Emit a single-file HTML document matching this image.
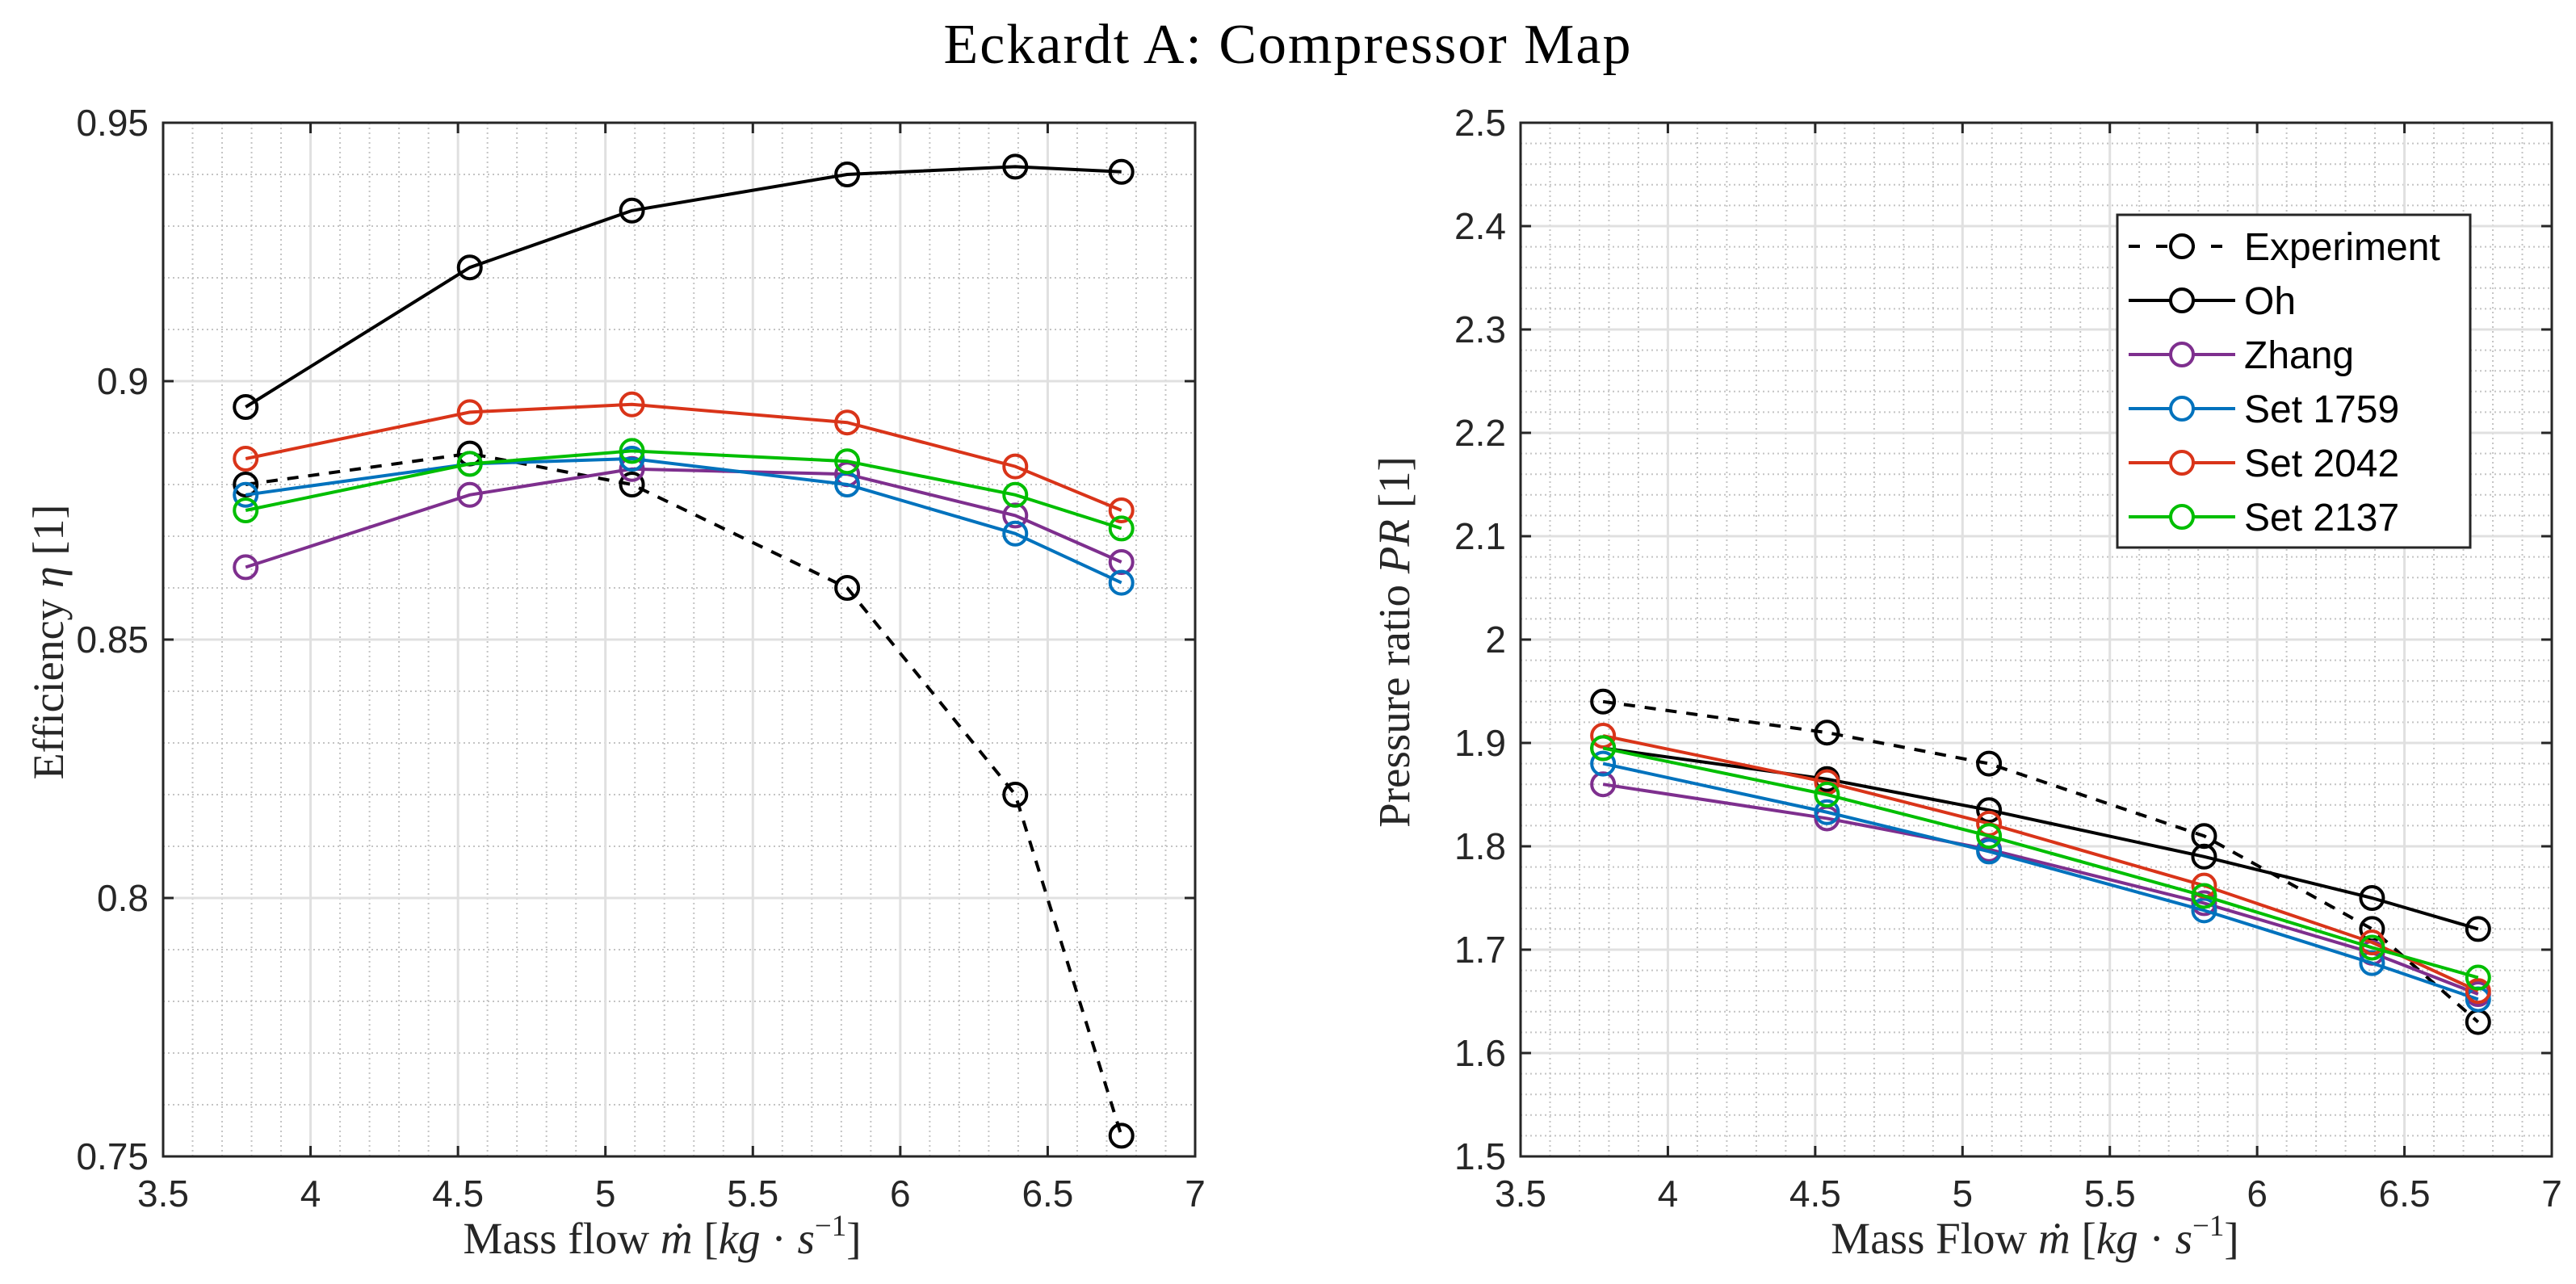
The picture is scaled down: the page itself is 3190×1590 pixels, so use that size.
<!DOCTYPE html>
<html><head><meta charset="utf-8"><style>
html,body{margin:0;padding:0;background:#fff;}
svg{display:block;}
</style></head><body>
<svg id="fig" width="3190" height="1590" viewBox="0 0 3190 1590" xmlns="http://www.w3.org/2000/svg">
<rect width="3190" height="1590" fill="#fff"/>
<text x="1595" y="78" text-anchor="middle" font-family="Liberation Serif, serif" font-size="70" letter-spacing="2" fill="#000">Eckardt A: Compressor Map</text>
<g id="left"></g>
<g id="right"></g>
<text x="820" y="1552" text-anchor="middle" font-family="Liberation Serif, serif" font-size="55" fill="#262626">Mass flow <tspan font-style="italic">ṁ</tspan> [<tspan font-style="italic">kg</tspan> · <tspan font-style="italic">s</tspan><tspan dy="-22" font-size="37">−1</tspan><tspan dy="22">]</tspan></text>
<text transform="translate(78,795) rotate(-90)" text-anchor="middle" font-family="Liberation Serif, serif" font-size="54" fill="#262626">Efficiency <tspan font-style="italic">η</tspan> [1]</text>
<text x="2520" y="1552" text-anchor="middle" font-family="Liberation Serif, serif" font-size="55" fill="#262626">Mass Flow <tspan font-style="italic">ṁ</tspan> [<tspan font-style="italic">kg</tspan> · <tspan font-style="italic">s</tspan><tspan dy="-22" font-size="37">−1</tspan><tspan dy="22">]</tspan></text>
<text transform="translate(1745,795) rotate(-90)" text-anchor="middle" font-family="Liberation Serif, serif" font-size="55" fill="#262626">Pressure ratio <tspan font-style="italic">PR</tspan> [1]</text>
<g id="legend"></g>
</svg>
<script>
const massFlow = [3.78, 4.54, 5.09, 5.82, 6.39, 6.75];
const seriesNames = ["Experiment", "Oh", "Zhang", "Set 1759", "Set 2042", "Set 2137"];
const effExperiment = [0.880, 0.886, 0.880, 0.860, 0.820, 0.754];
const effOh = [0.895, 0.922, 0.933, 0.940, 0.9415, 0.9405];
const effZhang = [0.864, 0.878, 0.883, 0.882, 0.874, 0.865];
const eff1759 = [0.878, 0.884, 0.885, 0.880, 0.8705, 0.861];
const eff2042 = [0.885, 0.894, 0.8955, 0.892, 0.8835, 0.875];
const eff2137 = [0.875, 0.884, 0.8865, 0.8845, 0.878, 0.8715];
const prExperiment = [1.94, 1.91, 1.88, 1.81, 1.72, 1.63];
const prOh = [1.895, 1.865, 1.835, 1.79, 1.75, 1.72];
const prZhang = [1.86, 1.827, 1.797, 1.745, 1.697, 1.657];
const pr1759 = [1.88, 1.833, 1.795, 1.738, 1.687, 1.652];
const pr2042 = [1.907, 1.862, 1.822, 1.762, 1.707, 1.66];
const pr2137 = [1.895, 1.85, 1.81, 1.752, 1.702, 1.673];
const xTicks = ["3.5","4","4.5","5","5.5","6","6.5","7"];
const effTicks = ["0.75","0.8","0.85","0.9","0.95"];
const prTicks = ["1.5","1.6","1.7","1.8","1.9","2","2.1","2.2","2.3","2.4","2.5"];

const NS = "http://www.w3.org/2000/svg";
const colors = ["#000","#000","#7E2F8E","#0072BD","#D93419","#00BE00"];
const dashes = ["14,12",null,null,null,null,null];
function mk(tag, attrs, parent){const e=document.createElementNS(NS,tag);for(const k in attrs)e.setAttribute(k,attrs[k]);parent.appendChild(e);return e;}

function drawAxes(g, L, R, T, B, xmin, xmax, ymin, ymax, yTickLabels, yMinorStep, seriesList, prefix){
  const sx = v => L + (v - xmin)/(xmax - xmin)*(R - L);
  const sy = v => B - (v - ymin)/(ymax - ymin)*(B - T);
  for (let v = xmin; v <= xmax + 1e-9; v += 0.1){
    const x = sx(v);
    const l = mk("line",{x1:x,y1:T,x2:x,y2:B,stroke:"#c4c4c4","stroke-width":2,"stroke-dasharray":"2,4"},g);
    
    
  }
  const nMinor = Math.round((ymax-ymin)/yMinorStep);
  for (let i = 0; i <= nMinor; i++){
    const y = sy(ymin + i*yMinorStep);
    const l = mk("line",{x1:L,y1:y,x2:R,y2:y,stroke:"#c4c4c4","stroke-width":2,"stroke-dasharray":"2,4"},g);
    
    
  }
  xTicks.forEach(t => {
    const x = sx(parseFloat(t));
    const l = mk("line",{x1:x,y1:T,x2:x,y2:B,stroke:"#e0e0e0","stroke-width":3},g);
    
    
    mk("line",{x1:x,y1:B,x2:x,y2:B-13,stroke:"#262626","stroke-width":3},g);
    mk("line",{x1:x,y1:T,x2:x,y2:T+13,stroke:"#262626","stroke-width":3},g);
    const tx = mk("text",{x:x,y:B+62,"text-anchor":"middle","font-family":"Liberation Sans, sans-serif","font-size":46,fill:"#262626"},g);
    tx.textContent = t;
    
    
  });
  yTickLabels.forEach(t => {
    const y = sy(parseFloat(t));
    const l = mk("line",{x1:L,y1:y,x2:R,y2:y,stroke:"#e0e0e0","stroke-width":3},g);
    
    
    mk("line",{x1:L,y1:y,x2:L+13,y2:y,stroke:"#262626","stroke-width":3},g);
    mk("line",{x1:R,y1:y,x2:R-13,y2:y,stroke:"#262626","stroke-width":3},g);
    const tx = mk("text",{x:L-18,y:y+16,"text-anchor":"end","font-family":"Liberation Sans, sans-serif","font-size":46,fill:"#262626"},g);
    tx.textContent = t;
    
    
  });
  const box = mk("rect",{x:L,y:T,width:R-L,height:B-T,fill:"none",stroke:"#262626","stroke-width":3},g);
  
  
  seriesList.forEach((vals, si) => {
    const pts = massFlow.map((m,i)=>sx(m)+","+sy(vals[i])).join(" ");
    const pl = mk("polyline",{points:pts,fill:"none",stroke:colors[si],"stroke-width":4},g);
    if (dashes[si]) pl.setAttribute("stroke-dasharray", dashes[si]);
    
    
    massFlow.forEach((m,i) => {
      const c = mk("circle",{cx:sx(m),cy:sy(vals[i]),r:14,fill:"none",stroke:colors[si],"stroke-width":4},g);
      
      
    });
  });
}

drawAxes(document.getElementById("left"), 202, 1480, 152, 1432, 3.5, 7, 0.75, 0.95, effTicks, 0.01,
  [effExperiment, effOh, effZhang, eff1759, eff2042, eff2137], "efficiency");
drawAxes(document.getElementById("right"), 1883, 3160, 152, 1432, 3.5, 7, 1.5, 2.5, prTicks, 0.02,
  [prExperiment, prOh, prZhang, pr1759, pr2042, pr2137], "pressure-ratio");

const lg = document.getElementById("legend");
const lbox = mk("rect",{x:2622,y:266,width:437,height:412,fill:"#fff",stroke:"#262626","stroke-width":3},lg);


seriesNames.forEach((n, i) => {
  const y = 305 + i*67;
  const ln = mk("line",{x1:2636,y1:y,x2:2768,y2:y,stroke:colors[i],"stroke-width":4},lg);
  if (dashes[i]) ln.setAttribute("stroke-dasharray","14,20");
  
  
  const c = mk("circle",{cx:2702,cy:y,r:14,fill:"#fff",stroke:colors[i],"stroke-width":4},lg);
  
  
  const t = mk("text",{x:2779,y:y+17,"font-family":"Liberation Sans, sans-serif","font-size":48,fill:"#000"},lg);
  t.textContent = n;
  
  
});
</script>
</body></html>
